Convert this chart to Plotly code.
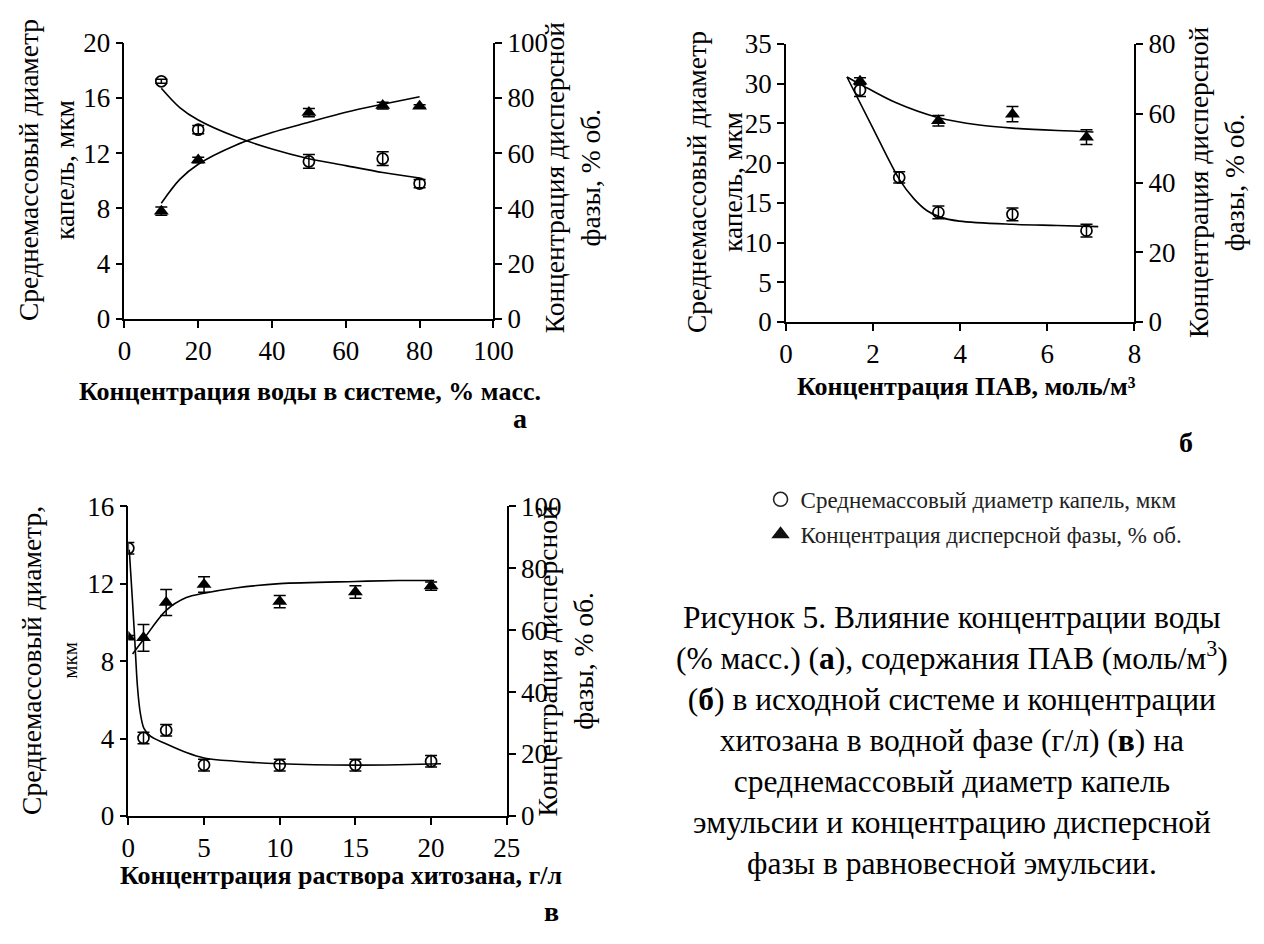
import plotly.graph_objects as go

# ---------------- data ----------------
# Panel а: water concentration, % mass
water_x = [10, 20, 50, 70, 80]
water_diam = [17.2, 13.7, 11.4, 11.6, 9.8]
water_diam_err = [0.15, 0.3, 0.5, 0.5, 0.3]
water_conc = [39.0, 57.5, 74.7, 77.2, 77.0]
water_conc_err = [1.5, 1.0, 1.5, 1.2, 0.5]
water_fit_x = [10, 15, 20, 30, 40, 50, 60, 70, 80]
water_fit_diam = [16.7, 15.3, 14.4, 13.2, 12.3, 11.6, 11.1, 10.6, 10.2]
water_fit_conc = [41.9, 50.5, 56.0, 62.8, 67.5, 71.2, 74.8, 77.7, 80.4]

# Panel б: surfactant concentration, mol/m3
pav_x = [1.7, 2.6, 3.5, 5.2, 6.9]
pav_diam = [29.2, 18.2, 13.8, 13.55, 11.5]
pav_diam_err = [0.8, 0.7, 0.8, 0.8, 0.8]
pav_conc_x = [1.7, 3.5, 5.2, 6.9]
pav_conc = [69.3, 57.9, 59.8, 53.2]
pav_conc_err = [1.0, 1.5, 2.2, 2.1]
pav_fit_diam_x = [1.4, 1.96, 2.61, 2.94, 3.24, 3.54, 3.98, 5.18, 6.23, 7.17]
pav_fit_diam = [30.85, 24.8, 17.9, 15.5, 14.0, 13.2, 12.7, 12.3, 12.15, 12.0]
pav_fit_conc_x = [1.4, 1.71, 2.49, 3.5, 4.44, 5.2, 6.23, 7.06]
pav_fit_conc = [70.5, 68.4, 63.3, 58.8, 56.7, 55.8, 55.1, 54.7]

# Panel в: chitosan solution concentration, g/l
chit_x = [0, 1, 2.5, 5, 10, 15, 20]
chit_diam = [13.83, 4.03, 4.43, 2.63, 2.63, 2.63, 2.83]
chit_diam_err = [0.3, 0.3, 0.3, 0.3, 0.3, 0.3, 0.3]
chit_conc = [57.7, 57.5, 68.9, 74.7, 69.2, 72.3, 74.2]
chit_conc_err = [0.6, 4.3, 4.2, 2.5, 2.0, 2.0, 1.3]
chit_fit_diam_x = [0.06, 0.28, 0.43, 0.6, 0.78, 1.03, 1.46, 2.48, 3.83, 5, 7.08, 10, 15, 17.85, 20.65]
chit_fit_diam = [13.75, 11.0, 9.0, 6.7, 5.37, 4.53, 4.12, 3.73, 3.28, 3.0, 2.83, 2.7, 2.63, 2.65, 2.7]
chit_fit_conc_x = [0.28, 1, 2.48, 3.83, 5, 7.08, 10, 15, 17.85, 20.2]
chit_fit_conc = [52.3, 57.0, 66.3, 70.5, 71.9, 73.6, 75.0, 75.7, 76.0, 76.0]

legend_names = ["Среднемассовый диаметр капель, мкм", "Концентрация дисперсной фазы, % об."]

# ---------------- figure ----------------
W, H = 1264, 944
FONT = "Liberation Serif"
BLACK = "black"

def px(x):
    return x / W

def py(y):
    return 1 - y / H

fig = go.Figure()

circle = dict(symbol="circle-open", size=11, color=BLACK, line=dict(width=1.7, color=BLACK))
tri = dict(symbol="triangle-up", size=13, color=BLACK)

def err(arr):
    return dict(type="data", array=arr, color=BLACK, thickness=1.5, width=6)

def add_panel(xa, yl, yr, x, d, derr, xc, c, cerr, fxd, fd, fxc, fc):
    fig.add_trace(go.Scatter(x=fxd, y=fd, mode="lines", line=dict(color=BLACK, width=1.6, shape="spline", smoothing=0.9),
                             xaxis=xa, yaxis=yl, showlegend=False, hoverinfo="skip"))
    fig.add_trace(go.Scatter(x=fxc, y=fc, mode="lines", line=dict(color=BLACK, width=1.6, shape="spline", smoothing=0.9),
                             xaxis=xa, yaxis=yr, showlegend=False, hoverinfo="skip"))
    fig.add_trace(go.Scatter(x=x, y=d, mode="markers", marker=circle, error_y=err(derr),
                             xaxis=xa, yaxis=yl, showlegend=False))
    fig.add_trace(go.Scatter(x=xc, y=c, mode="markers", marker=tri, error_y=err(cerr),
                             xaxis=xa, yaxis=yr, showlegend=False))

add_panel("x", "y", "y2", water_x, water_diam, water_diam_err, water_x, water_conc, water_conc_err,
          water_fit_x, water_fit_diam, water_fit_x, water_fit_conc)
add_panel("x2", "y3", "y4", pav_x, pav_diam, pav_diam_err, pav_conc_x, pav_conc, pav_conc_err,
          pav_fit_diam_x, pav_fit_diam, pav_fit_conc_x, pav_fit_conc)
add_panel("x3", "y5", "y6", chit_x, chit_diam, chit_diam_err, chit_x, chit_conc, chit_conc_err,
          chit_fit_diam_x, chit_fit_diam, chit_fit_conc_x, chit_fit_conc)

# legend-only entries
fig.add_trace(go.Scatter(x=[None], y=[None], mode="markers", name=legend_names[0],
                         marker=dict(symbol="circle-open", size=14, color="#222", line=dict(width=1.6, color="#222")),
                         xaxis="x", yaxis="y", legendgroup="a"))
fig.add_trace(go.Scatter(x=[None], y=[None], mode="markers", name=legend_names[1],
                         marker=dict(symbol="triangle-up", size=16, color="#111"),
                         xaxis="x", yaxis="y", legendgroup="b"))

tick_font = dict(family=FONT, size=27, color=BLACK)
base_axis = dict(showline=True, linecolor=BLACK, linewidth=1.5, ticks="outside", ticklen=7, tickwidth=1.5,
                 tickcolor=BLACK, showgrid=False, zeroline=False, tickfont=tick_font, fixedrange=True)

dom_a_x = [px(120), px(497)]
dom_a_y = [py(314), py(28.5)]
dom_b_x = [px(796), px(1152)]
dom_b_y = [py(317), py(30)]
dom_c_x = [px(124), px(510.7)]
dom_c_y = [py(827.3), py(507.3)]

fig.update_layout(
    width=W, height=H, margin=dict(l=0, r=0, t=0, b=0),
    paper_bgcolor="white", plot_bgcolor="rgba(0,0,0,0)",
    font=dict(family=FONT, color=BLACK),
    xaxis=dict(base_axis, domain=dom_a_x, anchor="y", range=[0, 100], tickvals=[0, 20, 40, 60, 80, 100]),
    yaxis=dict(base_axis, domain=dom_a_y, anchor="x", range=[0, 20], tickvals=[0, 4, 8, 12, 16, 20]),
    yaxis2=dict(base_axis, domain=dom_a_y, anchor="x", overlaying="y", side="right", range=[0, 100],
                tickvals=[0, 20, 40, 60, 80, 100]),
    xaxis2=dict(base_axis, domain=dom_b_x, anchor="y3", range=[0, 8], tickvals=[0, 2, 4, 6, 8]),
    yaxis3=dict(base_axis, domain=dom_b_y, anchor="x2", range=[0, 35], tickvals=[0, 5, 10, 15, 20, 25, 30, 35]),
    yaxis4=dict(base_axis, domain=dom_b_y, anchor="x2", overlaying="y3", side="right", range=[0, 80],
                tickvals=[0, 20, 40, 60, 80]),
    xaxis3=dict(base_axis, domain=dom_c_x, anchor="y5", range=[0, 25], tickvals=[0, 5, 10, 15, 20, 25]),
    yaxis5=dict(base_axis, domain=dom_c_y, anchor="x3", range=[0, 16], tickvals=[0, 4, 8, 12, 16]),
    yaxis6=dict(base_axis, domain=dom_c_y, anchor="x3", overlaying="y5", side="right", range=[0, 100],
                tickvals=[0, 20, 40, 60, 80, 100]),
    legend=dict(x=px(770), y=py(478), xanchor="left", yanchor="top", bgcolor="rgba(0,0,0,0)",
                font=dict(family=FONT, size=23, color="#222"), tracegroupgap=2, itemwidth=30),
    showlegend=True,
)

ann = []

def ytitle(text, x, y, size=27.5):
    ann.append(dict(text=text, x=px(x), y=py(y), xref="paper", yref="paper", textangle=-90,
                    showarrow=False, xanchor="center", yanchor="middle",
                    font=dict(family=FONT, size=size, color=BLACK)))

def label(text, x, y, size=26, bold=True):
    t = f"<b>{text}</b>" if bold else text
    ann.append(dict(text=t, x=px(x), y=py(y), xref="paper", yref="paper", showarrow=False,
                    xanchor="center", yanchor="middle", font=dict(family=FONT, size=size, color=BLACK)))

left_title = "Среднемассовый диаметр<br>капель, мкм"
right_title = "Концентрация дисперсной<br>фазы, % об."

ytitle(left_title, 41, 160)
ytitle(right_title, 578, 168)
ytitle(left_title, 723, 173)
ytitle(right_title, 1236, 173)
ytitle("Среднемассовый диаметр,<br><span style='font-size:21px'>мкм</span>", 43, 667)
ytitle(right_title, 571, 667)

label("Концентрация воды в системе, % масс.", 310, 389)
label("Концентрация ПАВ, моль/м³", 980, 384)
label("Концентрация раствора хитозана, г/л", 341, 889)

label("а", 524, 417, size=28)
label("б", 1205, 442, size=28)
label("в", 556, 926, size=28)

caption = ("Рисунок 5. Влияние концентрации воды<br>"
           "(% масс.) (<b>а</b>), содержания ПАВ (моль/м<sup>3</sup>)<br>"
           "(<b>б</b>) в исходной системе и концентрации<br>"
           "хитозана в водной фазе (г/л) (<b>в</b>) на<br>"
           "среднемассовый диаметр капель<br>"
           "эмульсии и концентрацию дисперсной<br>"
           "фазы в равновесной эмульсии.")
ann.append(dict(text=caption, x=px(966), y=py(749), xref="paper", yref="paper", showarrow=False,
                xanchor="center", yanchor="middle", align="center",
                font=dict(family=FONT, size=31.5, color=BLACK)))

fig.update_layout(annotations=ann)

fig.write_html("out.html", config={"displayModeBar": False},
               post_script="document.body.style.margin='0px';document.body.style.overflow='hidden';")
